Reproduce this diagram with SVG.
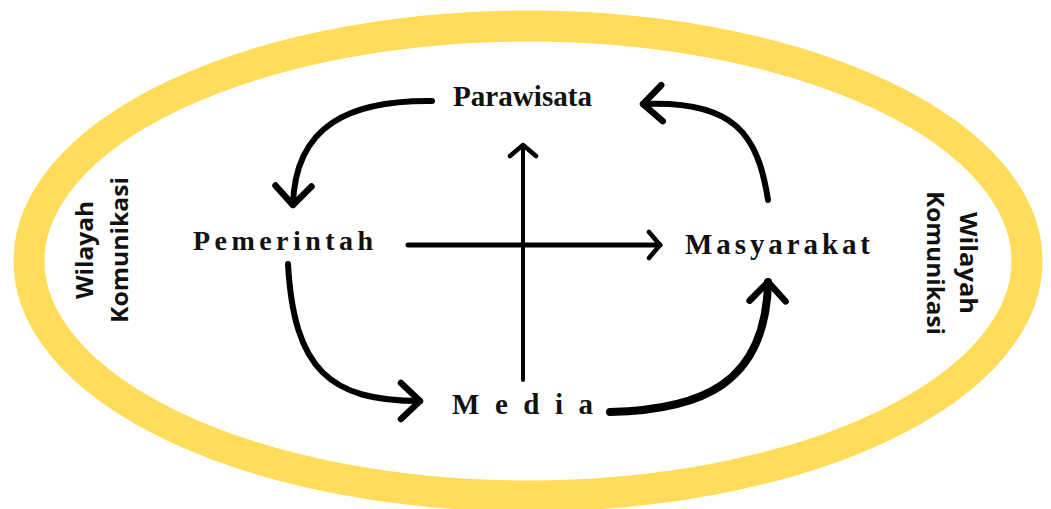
<svg xmlns="http://www.w3.org/2000/svg" width="1051" height="509" viewBox="0 0 1051 509">
<style>
.node{font-family:"Liberation Serif","Times New Roman",serif;font-weight:bold;fill:#111;}
.area{font-family:"Open Sans","Liberation Sans",sans-serif;font-weight:bold;font-size:24px;fill:#111;text-anchor:middle;}
.conn{fill:none;stroke:#000;stroke-linecap:round;stroke-linejoin:round;}
</style>
<defs>
<marker id="chev" markerUnits="userSpaceOnUse" viewBox="-30 -30 60 60" markerWidth="60" markerHeight="60" refX="0" refY="0" orient="auto" overflow="visible">
<path d="M-19,-18 L0,0 L-19,18" fill="none" stroke="#000" stroke-width="6.5" stroke-linecap="round" stroke-linejoin="round"/>
</marker>
<marker id="chevs" markerUnits="userSpaceOnUse" viewBox="-30 -30 60 60" markerWidth="60" markerHeight="60" refX="0" refY="0" orient="auto" overflow="visible">
<path d="M-11,-13 L0,0 L-11,13" fill="none" stroke="#000" stroke-width="4.5" stroke-linecap="round" stroke-linejoin="round"/>
</marker>
</defs>
<rect width="1051" height="509" fill="#fff"/>
<g id="wilayah">
<ellipse cx="528" cy="261" rx="499" ry="235" fill="none" stroke="#FFDC5A" stroke-width="31"/>
<g transform="translate(93,250) rotate(-90)">
<text class="area" x="0" y="0" textLength="98" lengthAdjust="spacingAndGlyphs">Wilayah</text>
<text class="area" x="0" y="35" textLength="146" lengthAdjust="spacingAndGlyphs">Komunikasi</text>
</g>
<g transform="translate(960,263) rotate(90)">
<text class="area" x="0" y="0" textLength="102" lengthAdjust="spacingAndGlyphs">Wilayah</text>
<text class="area" x="0" y="33" textLength="144" lengthAdjust="spacingAndGlyphs">Komunikasi</text>
</g>
</g>
<g id="connectors">
<path class="conn" d="M432,101 C350,100 295,125 293,205" stroke-width="6" marker-end="url(#chev)"/>
<path class="conn" d="M288,264 C294,370 330,401 420,401" stroke-width="6" marker-end="url(#chev)"/>
<path class="conn" d="M610,412 C700,410 766,385 768,282" stroke-width="8" marker-end="url(#chev)"/>
<path class="conn" d="M768,200 C758,135 735,100 643,104" stroke-width="6" marker-end="url(#chev)"/>
<path class="conn" d="M408,245 L660,245" stroke-width="5" marker-end="url(#chevs)"/>
<path class="conn" d="M523,380 L523,145" stroke-width="4" marker-end="url(#chevs)"/>
</g>
<g id="parawisata"><text class="node" x="453" y="106" font-size="30" textLength="139" lengthAdjust="spacingAndGlyphs">Parawisata</text></g>
<g id="pemerintah"><text class="node" x="193" y="250" font-size="28" textLength="180" lengthAdjust="spacing">Pemerintah</text></g>
<g id="masyarakat"><text class="node" x="685" y="254" font-size="29" textLength="185" lengthAdjust="spacing">Masyarakat</text></g>
<g id="media"><text class="node" x="452" y="414" font-size="29" textLength="141" lengthAdjust="spacing">Media</text></g>
</svg>
